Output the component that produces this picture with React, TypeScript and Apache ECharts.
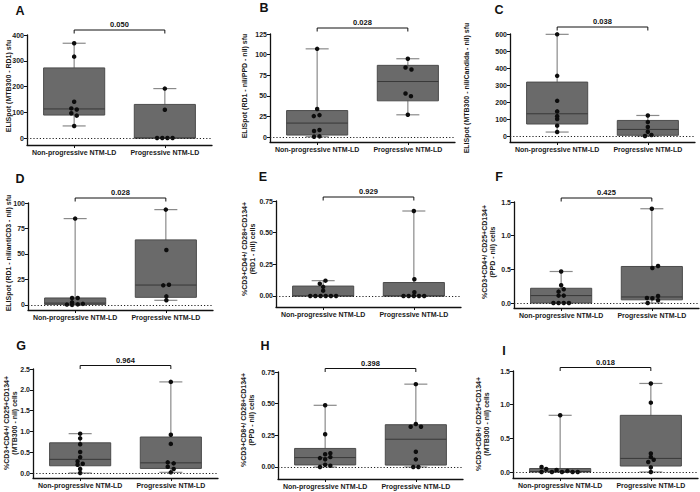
import React, { useEffect, useRef } from "react";
import * as echarts from "echarts";

// ---------- DATA ----------
const GROUPS = ["Non-progressive NTM-LD", "Progressive NTM-LD"];
const LETTERS = ["A", "B", "C", "D", "E", "F", "G", "H", "I"];
const P_VALUES = ["0.050", "0.028", "0.038", "0.028", "0.929", "0.425", "0.964", "0.398", "0.018"];
const Y_NAMES = [
  "ELISpot (MTB300 - RD1) sfu",
  "ELISpot (RD1 - nil/PPD - nil) sfu",
  "ELISpot (MTB300 - nil/Candida - nil) sfu",
  "ELISpot (RD1 - nil/antiCD3 - nil) sfu",
  "%CD3+CD4+/ CD28+CD134+\n(RD1 - nil) cells",
  "%CD3+CD4+/ CD25+CD134+\n(PPD - nil) cells",
  "%CD3+CD4+/ CD25+CD134+\n(MTB300 - nil) cells",
  "%CD3+CD8+/ CD28+CD134+\n(PPD - nil) cells",
  "%CD3+CD8+/ CD25+CD134+\n(MTB300 - nil) cells",
];
const Y_TICKS = [
  [0, 100, 200, 300, 400],
  [0, 25, 50, 75, 100, 125],
  [0, 100, 200, 300, 400, 500, 600],
  [0, 25, 50, 75, 100],
  [0, 0.25, 0.5, 0.75],
  [0, 0.5, 1.0, 1.5],
  [0, 0.5, 1.0, 1.5, 2.0, 2.5],
  [0, 0.25, 0.5, 0.75],
  [0, 0.5, 1.0, 1.5],
];
const Y_DECIMALS = [0, 0, 0, 0, 2, 1, 1, 2, 1];

// values per group (non-progressive, progressive) and beeswarm offsets (in dot steps)
const A_NON = [368, 316, 141, 115, 111, 96, 87, 47];
const A_NON_JIT = [0, 0, 0, -0.55, 0.5, -0.55, 0.5, 0];
const A_PRO = [192, 110, 0, 0, 0, 0];
const A_PRO_JIT = [0, 0, -1.5, -0.5, 0.5, 1.5];

const B_NON = [107, 34, 25.4, 26.6, 7.3, 8.5, 0.4, 0.8];
const B_NON_JIT = [0, 0, -0.65, 0.45, -0.6, 0.45, -0.6, 0.45];
const B_PRO = [95, 84.3, 81.9, 52.8, 49.6, 27];
const B_PRO_JIT = [0, -0.45, 0.7, -0.45, 0.6, 0];

const C_NON = [598, 354, 207, 145, 117, 100, 61, 23.5];
const C_NON_JIT = [0, 0, 0, 0, 0, 0, 0, 0];
const C_PRO = [121, 82, 53, 25, 6, 0];
const C_PRO_JIT = [0, 0, 0, 0, 0.7, -0.55];

const D_NON = [84.7, 6.8, 6.8, 2.5, 1.0, 0.5, 0.3, 0];
const D_NON_JIT = [0, -0.6, 0.5, -0.6, 1.5, 0.5, -1.6, -0.6];
const D_PRO = [93.5, 53.9, 19.2, 19.8, 8.4, 4.5];
const D_PRO_JIT = [0, 0.1, -0.5, 0.6, 0.1, 0.1];

const E_NON = [0.121, 0.097, 0.072, 0.042, 0, 0, 0, 0, 0, 0];
const E_NON_JIT = [0.45, -0.65, 0, 0, -2.5, -1.5, -0.5, 0.5, 1.5, 2.5];
const E_PRO = [0.671, 0.132, 0.029, 0, 0, 0, 0, 0];
const E_PRO_JIT = [0, 0.1, 0.1, -2, -1, 0, 1, 2];

const F_NON = [0.468, 0.264, 0.204, 0.169, 0.11, 0.11, 0, 0, 0, 0];
const F_NON_JIT = [0, 0, 0.5, -0.5, -0.5, 0.5, -1.5, -0.5, 0.5, 1.5];
const F_PRO = [1.4, 0.52, 0.55, 0.075, 0.07, 0.105, 0.04, 0];
const F_PRO_JIT = [0, 0.1, 1.2, -0.95, 0.1, 1.2, 1.2, -0.8];

const G_NON = [0.946, 0.833, 0.69, 0.505, 0.377, 0.28, 0.224, 0.2, 0.096, 0];
const G_NON_JIT = [0, 0, 0, 0, 0, -0.5, 0.5, -0.5, 0, 0];
const G_PRO = [2.19, 0.92, 0.7, 0.256, 0.232, 0.152, 0.096, 0.016];
const G_PRO_JIT = [0, 0, 0, -0.6, 0.55, -0.6, 0.55, 0];

const H_NON = [0.487, 0.258, 0.109, 0.1, 0.078, 0.07, 0.06, 0.018, 0.01, 0];
const H_NON_JIT = [0, 0, 1, 0, 1, -1, 0, 0, 1, -1];
const H_PRO = [0.654, 0.339, 0.318, 0.318, 0.12, 0.06, 0, 0];
const H_PRO_JIT = [0, 0, -1, 1, 0, 0, -0.5, 0.5];

const I_NON = [0.842, 0.074, 0.044, 0.03, 0.015, 0, 0, 0, 0, 0];
const I_NON_JIT = [0, -3.6, -2.7, -0.7, 1.4, -3.6, -1.6, 0.35, 2.4, 3.4];
const I_PRO = [1.315, 1.03, 0.276, 0.222, 0.182, 0.148, 0.069, 0];
const I_PRO_JIT = [0, 0, 0, 0, 0.55, -0.5, 0, 0];

const VALUES = [
  [A_NON, A_PRO], [B_NON, B_PRO], [C_NON, C_PRO],
  [D_NON, D_PRO], [E_NON, E_PRO], [F_NON, F_PRO],
  [G_NON, G_PRO], [H_NON, H_PRO], [I_NON, I_PRO],
];
const JITTER = [
  [A_NON_JIT, A_PRO_JIT], [B_NON_JIT, B_PRO_JIT], [C_NON_JIT, C_PRO_JIT],
  [D_NON_JIT, D_PRO_JIT], [E_NON_JIT, E_PRO_JIT], [F_NON_JIT, F_PRO_JIT],
  [G_NON_JIT, G_PRO_JIT], [H_NON_JIT, H_PRO_JIT], [I_NON_JIT, I_PRO_JIT],
];

// ---------- LAYOUT / STYLE ----------
const LAYOUT = [
  { left: 27, top: 35, height: 110, yMin: -27, nameX: 8, nameY: 86, lx: 20, ly: 11, bGap: 5 },
  { left: 270, top: 34, height: 108, yMin: -6, nameX: 244, nameY: 86, lx: 264, ly: 8, bGap: 6 },
  { left: 510, top: 34, height: 108, yMin: -35, nameX: 466, nameY: 88, lx: 499, ly: 10, bGap: 7 },
  { left: 28, top: 203, height: 107, yMin: -5, nameX: 8, nameY: 253, lx: 20, ly: 179, bGap: 5 },
  { left: 276, top: 201, height: 106, yMin: -0.087, nameX: 248, nameY: 249, lx: 263, ly: 177, bGap: 4 },
  { left: 514, top: 202, height: 106, yMin: -0.074, nameX: 488, nameY: 252, lx: 499, ly: 177, bGap: 4 },
  { left: 33, top: 369, height: 109, yMin: -0.12, nameX: 10, nameY: 423, lx: 21, ly: 346, bGap: 3.5 },
  { left: 278, top: 372, height: 107, yMin: -0.095, nameX: 247, nameY: 420, lx: 265, ly: 346, bGap: 3.5 },
  { left: 513, top: 371, height: 107, yMin: -0.089, nameX: 482, nameY: 424, lx: 504, ly: 351, bGap: 3.5 },
];
const GRID_W = 185;
const X_MIN = -0.52;
const X_MAX = 1.52;
const BOX_HALF = 0.337;
const CAP_HALF = 0.127;
const DOT_STEP = 0.057;
const FONT = "Liberation Sans, Arial, sans-serif";

function quant(sorted: number[], p: number) {
  const n = sorted.length;
  const pos = (n + 1) * p;
  if (pos <= 1) return sorted[0];
  if (pos >= n) return sorted[n - 1];
  const lo = Math.floor(pos);
  const f = pos - lo;
  return sorted[lo - 1] + f * (sorted[lo] - sorted[lo - 1]);
}

function boxStats(vals: number[]) {
  const s = [...vals].sort((a, b) => a - b);
  return [s[0], quant(s, 0.25), quant(s, 0.5), quant(s, 0.75), s[s.length - 1]];
}

function buildOption() {
  const grid: any[] = [];
  const xAxis: any[] = [];
  const yAxis: any[] = [];
  const series: any[] = [];
  const graphic: any[] = [];

  LAYOUT.forEach((L, k) => {
    const ticks = Y_TICKS[k];
    const yMax = ticks[ticks.length - 1];
    const dec = Y_DECIMALS[k];
    grid.push({ left: L.left, top: L.top, width: GRID_W, height: L.height, containLabel: false });
    xAxis.push({
      type: "value",
      gridIndex: k,
      min: X_MIN,
      max: X_MAX,
      axisLine: { show: true, onZero: false, lineStyle: { color: "#111", width: 1.3 } },
      axisTick: { show: true, length: 3, customValues: [0, 1], lineStyle: { color: "#111", width: 1 } },
      axisLabel: {
        customValues: [0, 1],
        formatter: (v: number) => GROUPS[Math.round(v)],
        fontSize: 7,
        fontWeight: "bold",
        fontFamily: FONT,
        color: "#1a1a1a",
        margin: 4,
      },
      splitLine: { show: false },
    });
    yAxis.push({
      type: "value",
      gridIndex: k,
      min: L.yMin,
      max: yMax,
      axisLine: { show: true, onZero: false, lineStyle: { color: "#111", width: 1.3 } },
      axisTick: { show: true, length: 3, customValues: ticks, lineStyle: { color: "#111", width: 1 } },
      axisLabel: {
        customValues: ticks,
        formatter: (v: number) => v.toFixed(dec),
        fontSize: 7,
        fontWeight: "bold",
        fontFamily: FONT,
        color: "#1a1a1a",
        margin: 3,
      },
      splitLine: { show: false },
    });

    const boxData = VALUES[k].map((vals, g) => [g, ...boxStats(vals)]);
    series.push({
      type: "custom",
      xAxisIndex: k,
      yAxisIndex: k,
      silent: true,
      clip: false,
      z: 2,
      data: boxData,
      renderItem: (params: any, api: any) => {
        const x = api.value(0);
        const mn = api.value(1), q1 = api.value(2), md = api.value(3), q3 = api.value(4), mx = api.value(5);
        const cx = api.coord([x, 0])[0];
        const hw = api.coord([x + BOX_HALF, 0])[0] - cx;
        const cw = api.coord([x + CAP_HALF, 0])[0] - cx;
        const y = (v: number) => api.coord([x, v])[1];
        const wStyle = { stroke: "#8a8a8a", lineWidth: 1.2 };
        return {
          type: "group",
          children: [
            { type: "line", shape: { x1: cx, y1: y(mn), x2: cx, y2: y(mx) }, style: wStyle },
            { type: "line", shape: { x1: cx - cw, y1: y(mx), x2: cx + cw, y2: y(mx) }, style: wStyle },
            { type: "line", shape: { x1: cx - cw, y1: y(mn), x2: cx + cw, y2: y(mn) }, style: wStyle },
            {
              type: "rect",
              shape: { x: cx - hw, y: y(q3), width: 2 * hw, height: Math.max(y(q1) - y(q3), 0.5) },
              style: { fill: "#6a6a6a", stroke: "#4c4c4c", lineWidth: 1 },
            },
            { type: "line", shape: { x1: cx - hw, y1: y(md), x2: cx + hw, y2: y(md) }, style: { stroke: "#383838", lineWidth: 1 } },
          ],
        };
      },
    });

    const pts: number[][] = [];
    VALUES[k].forEach((vals, g) => {
      vals.forEach((v, i) => pts.push([g + JITTER[k][g][i] * DOT_STEP, v]));
    });
    series.push({
      type: "scatter",
      xAxisIndex: k,
      yAxisIndex: k,
      silent: true,
      z: 4,
      symbolSize: 4.5,
      itemStyle: { color: "#0d0d0d", opacity: 1 },
      data: pts,
      markLine: {
        silent: true,
        symbol: "none",
        label: { show: false },
        lineStyle: { type: [1.2, 2], color: "#222", width: 1 },
        data: [{ yAxis: 0 }],
      },
    });

    const pv = P_VALUES[k];
    const gap = L.bGap;
    series.push({
      type: "custom",
      xAxisIndex: k,
      yAxisIndex: k,
      silent: true,
      clip: false,
      z: 5,
      data: [[0, yMax]],
      renderItem: (params: any, api: any) => {
        const top = api.coord([0, api.value(1)])[1] - gap;
        const x1 = api.coord([0, 0])[0];
        const x2 = api.coord([1, 0])[0];
        return {
          type: "group",
          children: [
            {
              type: "polyline",
              shape: { points: [[x1, top + 3.5], [x1, top], [x2, top], [x2, top + 3.5]] },
              style: { stroke: "#111", fill: "none", lineWidth: 1 },
            },
            {
              type: "text",
              style: {
                text: pv, x: (x1 + x2) / 2, y: top - 5.5, align: "center", verticalAlign: "middle",
                fontSize: 7.5, fontWeight: "bold", fontFamily: FONT, fill: "#111",
              },
            },
          ],
        };
      },
    });

    graphic.push({
      type: "text",
      x: L.lx,
      y: L.ly,
      silent: true,
      style: { text: LETTERS[k], align: "center", verticalAlign: "middle", fontSize: 12.5, fontWeight: "bold", fontFamily: FONT, fill: "#111" },
    });
    graphic.push({
      type: "text",
      x: L.nameX,
      y: L.nameY,
      rotation: Math.PI / 2,
      silent: true,
      style: {
        text: Y_NAMES[k], align: "center", verticalAlign: "middle", fontSize: 7, fontWeight: "bold",
        fontFamily: FONT, fill: "#1a1a1a", lineHeight: 8,
      },
    });
  });

  return { animation: false, backgroundColor: "#fff", grid, xAxis, yAxis, series, graphic };
}

export default function App() {
  const ref = useRef<HTMLDivElement>(null);
  useEffect(() => {
    if (!ref.current) return;
    const chart = echarts.init(ref.current, undefined, { renderer: "svg" });
    chart.setOption(buildOption() as any);
    return () => chart.dispose();
  }, []);
  return (
    <div
      ref={ref}
      style={{ position: "fixed", left: 0, top: 0, width: 700, height: 492, background: "#fff" }}
    />
  );
}
